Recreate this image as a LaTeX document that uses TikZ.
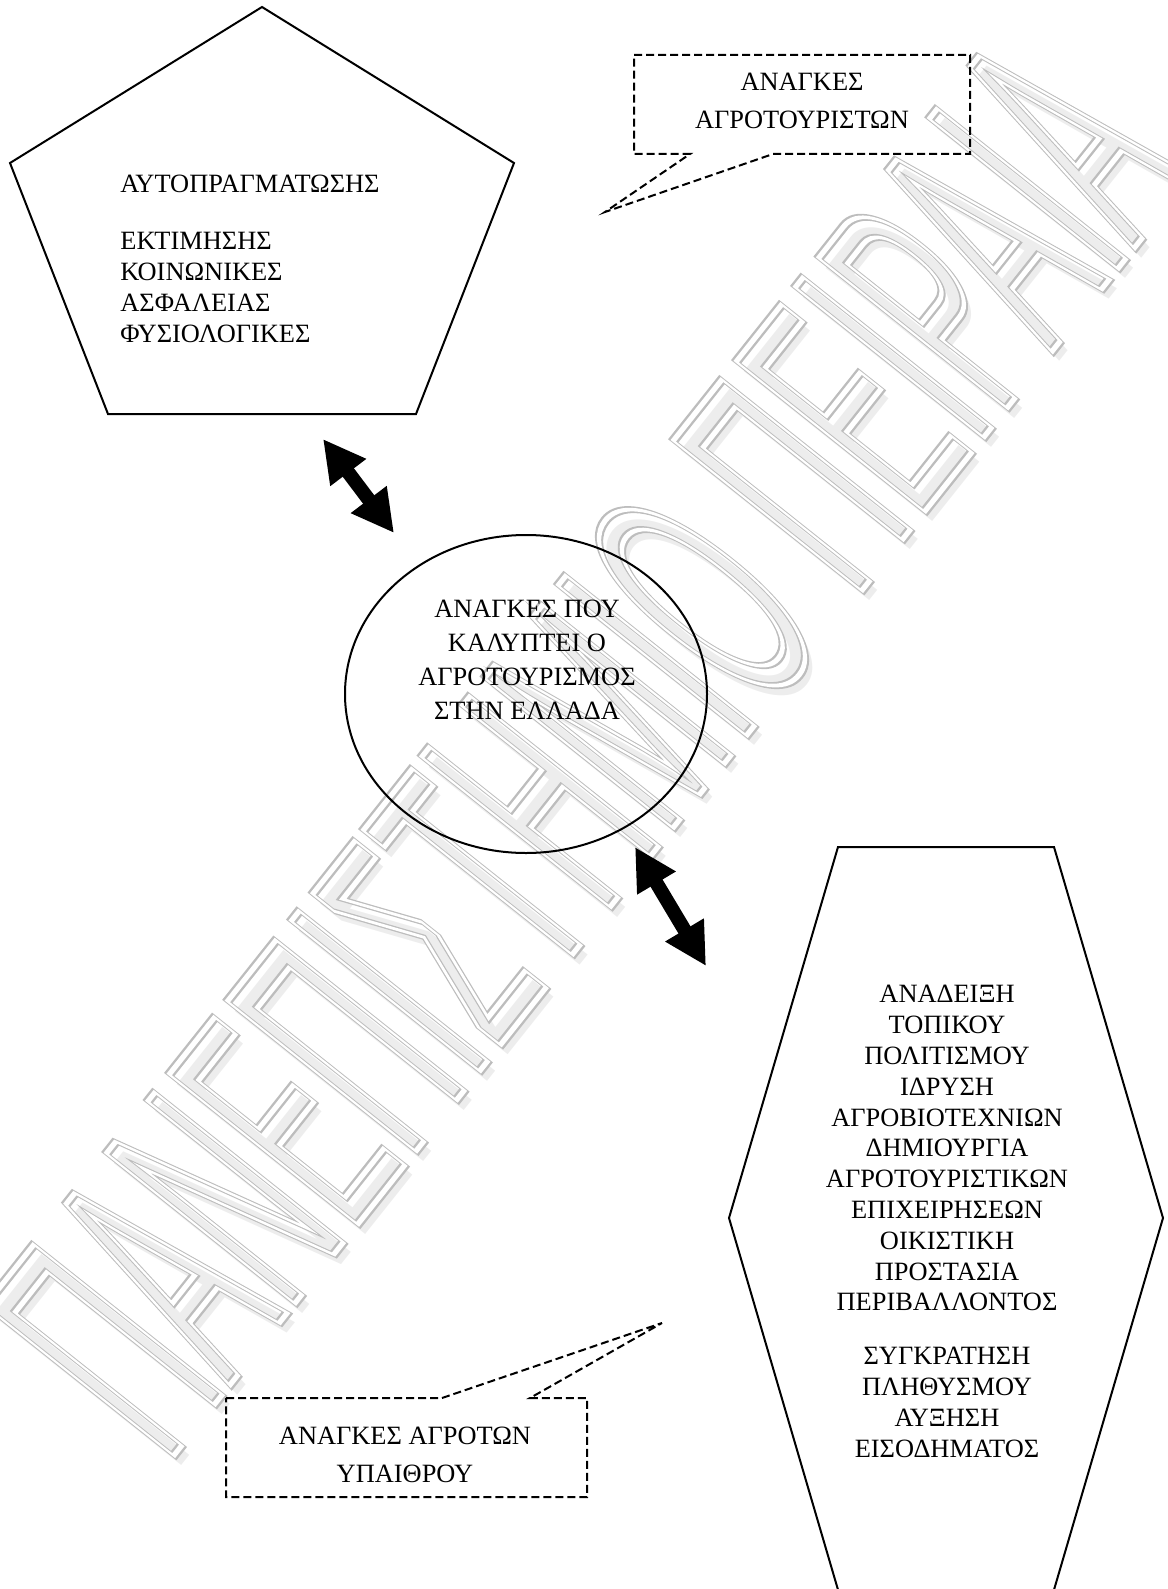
\documentclass[tikz,border=0pt]{standalone}
\usepackage{fontspec}
\setmainfont{Liberation Serif}
\newfontfamily\wmfont{Liberation Sans}
\newcommand\outlinetext[2]{\special{pdf:literal direct 1 Tr #1 w}#2\special{pdf:literal direct 0 Tr}}
\newcommand\wmtext{ΠΑΝΕΠΙΣΤΗΜΙΟ ΠΕΙΡΑΙΑ}
\usetikzlibrary{arrows.meta,shapes.geometric,positioning}

\begin{document}
\begin{tikzpicture}[x=0.5pt,y=-0.5pt,
    wm/.style={rotate=51.5,xscale=0.4,inner sep=0pt,font=\wmfont\fontsize{175}{175}\selectfont},
    shapeline/.style={draw,line width=1pt},
    callout/.style={draw,line width=1pt,dash pattern=on 4pt off 2pt},
    txt/.style={inner sep=0pt,align=center,font=\fontsize{13.2}{15.4}\selectfont},
    blockarrow/.style={line width=7pt,{Triangle[length=21pt,width=21pt]}-{Triangle[length=21pt,width=21pt]}}]
    \useasboundingbox (0,0) rectangle (1167,1589);
    % watermark
    \node[wm,text=black!7] (wmshadow) at (593,755) {\wmtext};
    \node[wm,text=black!26] (wmouter) at (585,745) {\outlinetext{5}{\wmtext}};
    \node[wm,text=white] (wminner) at (585,745) {\outlinetext{2.6}{\wmtext}};
    % pyramid of needs
    \draw[shapeline] (262,7) -- (514,163) -- (416,414) -- (108,414) -- (10,163) -- cycle;
    \node[txt,align=left,anchor=north west] (maslow) at (120,175)
      {ΑΥΤΟΠΡΑΓΜΑΤΩΣΗΣ\\[13pt] ΕΚΤΙΜΗΣΗΣ\\ ΚΟΙΝΩΝΙΚΕΣ\\ ΑΣΦΑΛΕΙΑΣ\\ ΦΥΣΙΟΛΟΓΙΚΕΣ};
    % centre
    \node[ellipse,shapeline,minimum width=181pt,minimum height=159pt,inner sep=0pt] (agro) at (526,694) {};
    \node[txt,anchor=north,font=\fontsize{13.2}{17}\selectfont] (agrotxt) at (527,600)
      {ΑΝΑΓΚΕΣ ΠΟΥ\\ ΚΑΛΥΠΤΕΙ Ο\\ ΑΓΡΟΤΟΥΡΙΣΜΟΣ\\ ΣΤΗΝ ΕΛΛΑΔΑ};
    % hexagon
    \draw[shapeline] (838,847) -- (1054,847) -- (1163,1218) -- (1051,1600) -- (841,1600) -- (729,1218) -- cycle;
    \node[txt,anchor=north] (rural) at (947,985)
      {ΑΝΑΔΕΙΞΗ\\ ΤΟΠΙΚΟΥ\\ ΠΟΛΙΤΙΣΜΟΥ\\ ΙΔΡΥΣΗ\\ ΑΓΡΟΒΙΟΤΕΧΝΙΩΝ\\ ΔΗΜΙΟΥΡΓΙΑ\\
       ΑΓΡΟΤΟΥΡΙΣΤΙΚΩΝ\\ ΕΠΙΧΕΙΡΗΣΕΩΝ\\ ΟΙΚΙΣΤΙΚΗ\\ ΠΡΟΣΤΑΣΙΑ\\ ΠΕΡΙΒΑΛΛΟΝΤΟΣ\\[11.5pt]
       ΣΥΓΚΡΑΤΗΣΗ\\ ΠΛΗΘΥΣΜΟΥ\\ ΑΥΞΗΣΗ\\ ΕΙΣΟΔΗΜΑΤΟΣ};
    % double arrows
    \coordinate (a1) at (323,439);
    \coordinate (b1) at (394,533);
    \coordinate (a2) at (635,847);
    \coordinate (b2) at (706,966);
    \draw[blockarrow] (a1) -- (b1);
    \draw[blockarrow] (a2) -- (b2);
    % callouts
    \coordinate (tip1) at (605,212);
    \coordinate (tip2) at (662,1323);
    \draw[callout] (634,55) -- (970,55) -- (970,154) -- (773,154) -- (tip1) -- (690,154) -- (634,154) -- cycle;
    \node[txt,anchor=north,font=\fontsize{13.2}{19}\selectfont] (tourists) at (802,73)
      {ΑΝΑΓΚΕΣ\\ ΑΓΡΟΤΟΥΡΙΣΤΩΝ};
    \draw[callout] (226,1398) -- (442,1398) -- (tip2) -- (530,1398) -- (587,1398) -- (587,1497) -- (226,1497) -- cycle;
    \node[txt,anchor=north,font=\fontsize{13.2}{19}\selectfont] (farmers) at (405,1427)
      {ΑΝΑΓΚΕΣ ΑΓΡΟΤΩΝ\\ ΥΠΑΙΘΡΟΥ};
\end{tikzpicture}
\end{document}
